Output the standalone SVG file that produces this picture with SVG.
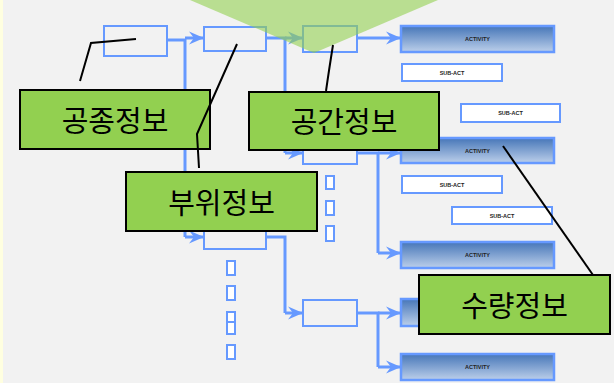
<svg xmlns="http://www.w3.org/2000/svg" width="614" height="383" viewBox="0 0 614 383">
<defs>
<linearGradient id="actg" x1="0" y1="0" x2="0" y2="1">
<stop offset="0" stop-color="#4676b8"/>
<stop offset="1" stop-color="#bccfea"/>
</linearGradient>
<marker id="ah" viewBox="-15 -7 16 14" refX="0" refY="0" markerWidth="16" markerHeight="14" markerUnits="userSpaceOnUse" orient="auto">
<path d="M0,0 L-15,-6.5 L-10,0 L-15,6.5 Z" fill="#6699ff"/>
</marker>
<style>
.box{fill:#f2f2f2;stroke:#6699ff;stroke-width:2}
.sub{fill:#ffffff;stroke:#6699ff;stroke-width:2}
.dot{fill:#ffffff;stroke:#6699ff;stroke-width:2}
.act{fill:url(#actg);stroke:#6699ff;stroke-width:2.5}
.con{fill:none;stroke:#6699ff;stroke-width:3}
.arr{fill:none;stroke:#6699ff;stroke-width:3;marker-end:url(#ah)}
.lbl{fill:#92d050;stroke:#000;stroke-width:2}
.kt{font-family:"Noto Sans CJK KR","Noto Sans",sans-serif;font-size:29px;fill:#000;text-anchor:middle;dominant-baseline:central}
.st{font-family:"Liberation Sans",Arial,sans-serif;font-size:5.5px;font-weight:bold;fill:#222;text-anchor:middle;dominant-baseline:central}
.call{fill:none;stroke:#000;stroke-width:2}
</style>
</defs>
<rect x="0" y="0" width="614" height="383" fill="#f2f2f2"/>
<rect x="0" y="0" width="3" height="383" fill="#ffffe0"/>

<g id="connectors">
<path class="con" d="M167,40 H185 V237"/>
<path class="arr" d="M185,38 H204"/>
<path class="arr" d="M185,237 H204"/>
<path class="con" d="M266,38 H285 V153"/>
<path class="arr" d="M285,38 H303"/>
<path class="arr" d="M285,153 H303"/>
<path class="con" d="M266,237 H285 V313"/>
<path class="arr" d="M285,313 H303"/>
<path class="arr" d="M357,38 H401"/>
<path class="con" d="M357,153 H378 V253"/>
<path class="arr" d="M378,153 H401"/>
<path class="arr" d="M378,253 H401"/>
<path class="con" d="M357,313 H378 V367"/>
<path class="arr" d="M378,313 H401"/>
<path class="arr" d="M378,367 H401"/>
</g>

<g id="box1"><rect class="box" x="104" y="26" width="63" height="30"/></g>
<g id="box2"><rect class="box" x="204" y="27" width="62" height="24"/></g>
<g id="box3"><rect class="box" x="303" y="26" width="54" height="26"/></g>
<g id="box4"><rect class="box" x="204" y="224" width="62" height="25"/></g>
<g id="box5"><rect class="box" x="303" y="140" width="54" height="24"/></g>
<g id="box6"><rect class="box" x="303" y="300" width="54" height="26"/></g>

<g id="dots1">
<rect class="dot" x="227" y="261" width="8" height="14"/>
<rect class="dot" x="227" y="286" width="8" height="14"/>
<rect class="dot" x="227" y="312" width="8" height="11"/>
<rect class="dot" x="227" y="322" width="8" height="12"/>
<rect class="dot" x="227" y="345" width="8" height="14"/>
</g>
<g id="dots2">
<rect class="dot" x="326" y="176" width="8" height="13"/>
<rect class="dot" x="326" y="201" width="8" height="14"/>
<rect class="dot" x="326" y="226" width="8" height="15"/>
</g>

<g id="act1"><rect class="act" x="401" y="26" width="153" height="26"/><text class="st" x="477.5" y="39">ACTIVITY</text></g>
<g id="act2"><rect class="act" x="401" y="138" width="153" height="25"/><text class="st" x="477.5" y="150.5">ACTIVITY</text></g>
<g id="act3"><rect class="act" x="401" y="242" width="153" height="26"/><text class="st" x="477.5" y="255">ACTIVITY</text></g>
<g id="act4"><rect class="act" x="401" y="299" width="153" height="27"/></g>
<g id="act5"><rect class="act" x="401" y="354" width="153" height="26"/><text class="st" x="477.5" y="367">ACTIVITY</text></g>

<g id="sub1"><rect class="sub" x="402" y="64" width="100" height="17"/><text class="st" x="452" y="72.5">SUB-ACT</text></g>
<g id="sub2"><rect class="sub" x="461" y="104" width="99" height="18"/><text class="st" x="510.5" y="113">SUB-ACT</text></g>
<g id="sub3"><rect class="sub" x="402" y="176" width="100" height="17"/><text class="st" x="452" y="184.5">SUB-ACT</text></g>
<g id="sub4"><rect class="sub" x="452" y="207" width="100" height="17"/><text class="st" x="502" y="215.5">SUB-ACT</text></g>

<polygon points="190,0 438,0 314,53" fill="#92d050" fill-opacity="0.6"/>

<g id="label1"><rect class="lbl" x="20" y="90" width="190" height="59"/><text class="kt" x="115" y="118.5">공종정보</text></g>
<g id="label2"><rect class="lbl" x="249" y="92" width="190" height="58"/><text class="kt" x="344" y="120">공간정보</text></g>
<g id="label3"><rect class="lbl" x="126" y="172" width="191" height="59"/><text class="kt" x="221.5" y="200.5">부위정보</text></g>
<g id="label4"><rect class="lbl" x="419" y="275" width="191" height="59"/><text class="kt" x="514.5" y="303.5">수량정보</text></g>

<g id="callouts">
<path class="call" d="M80,81 L91,43 L136,39"/>
<path class="call" d="M199,168 L197,134 L237,44"/>
<path class="call" d="M333,45 Q329,70 326,91"/>
<path class="call" d="M503,146 L593,275"/>
</g>
</svg>
